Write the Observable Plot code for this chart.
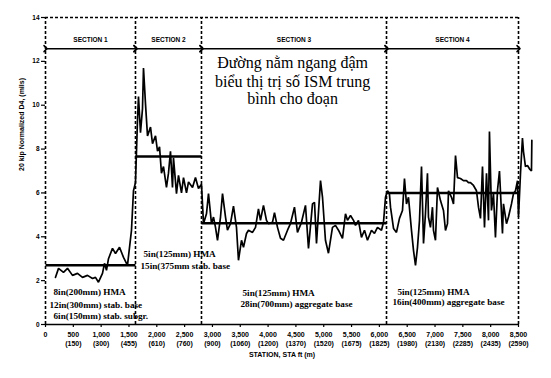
<!DOCTYPE html>
<html><head><meta charset="utf-8">
<script src="https://cdn.jsdelivr.net/npm/d3@7"></script>
<script src="https://cdn.jsdelivr.net/npm/@observablehq/plot@0.6"></script>
<style>html,body{margin:0;padding:0;background:#fff}</style>
</head><body><div id="chart"></div>
<script>
// Station (ft) along the road
const station = [
  180,234,323,395,485,575,665,755,845,898,952,1024,1060,1096,1132,1204,1258,1330,1402,1473,1545,1581,1617,
  1653,1671,1707,1743,1761,1797,1833,1887,1923,1977,2013,2049,2084,2120,2174,2210,2246,2282,2300,2354,2390,2444,2480,2534,2570,2642,2695,2749,2803,
  2839,2893,2929,2983,3019,3055,3091,3145,3181,3235,3270,3324,3378,3432,3468,3522,3558,3612,3648,3720,3774,3827,3863,3917,3971,4007,4079,4115,4169,4223,4277,4349,4402,4474,4528,4600,4672,4726,4798,4834,4870,4942,4978,5031,5085,5157,5211,5265,5337,5391,5427,5481,5535,5571,5624,5678,5732,5786,5858,5912,5966,6038,6074,6110,6145,
  6180,6200,6254,6307,6361,6415,6451,6487,6523,6577,6613,6649,6685,6721,6757,6793,6828,6864,6882,6918,6954,6972,7008,7044,7098,7152,7188,7224,7242,7296,7332,7368,7404,7457,7511,7565,7601,7637,7691,7745,7781,7817,7853,7889,7925,7961,7978,8014,8050,8086,8122,8158,8212,8230,8284,8320,8374,8410,8446,8482,8500,8536,8571,8589,8625,8661,8697,8733,8740
];
// 20 kip normalized D4 deflection (mils)
const deflection = [
  2.15,2.56,2.38,2.56,2.24,2.33,2.15,2.24,2.1,2.15,1.93,2.33,2.79,2.47,3.0,3.47,3.24,3.52,3.06,2.7,4.29,6.1,6.47,
  9.3,10.4,8.75,9.84,11.7,10.06,8.6,9.0,8.25,8.6,7.9,8.1,6.9,7.2,6.25,6.9,7.9,6.25,7.6,5.97,6.8,6.0,6.7,6.0,6.5,6.25,6.7,6.2,6.4,
  4.6,5.05,5.97,4.6,4.9,4.43,3.84,4.9,5.97,4.9,4.3,4.6,5.4,4.43,2.93,3.84,3.52,4.15,4.3,4.2,4.43,5.27,4.75,5.43,4.75,4.6,4.66,5.1,4.43,3.93,3.84,4.3,4.6,5.35,4.2,4.66,5.43,3.47,5.5,5.57,3.7,6.56,5.8,3.84,3.25,4.43,4.52,4.3,3.93,5.05,4.75,4.97,4.75,4.52,4.75,3.97,4.3,3.84,4.3,4.15,4.43,4.3,4.66,5.8,6.1,
  5.97,5.35,4.38,4.2,4.84,5.2,6.66,5.5,5.8,4.29,3.38,2.7,3.52,4.75,7.2,3.7,5.05,6.9,4.9,4.43,5.35,4.29,3.84,6.25,5.65,5.2,4.29,4.6,6.1,5.8,5.5,7.7,6.7,6.66,6.56,6.56,6.47,6.47,6.34,6.1,5.35,4.84,7.2,4.43,6.9,4.75,8.8,5.2,5.97,3.97,6.1,7.0,4.15,5.5,4.6,4.9,5.5,5.97,6.1,6.56,4.9,6.9,8.5,7.9,7.2,7.25,7.1,7.0,8.4
];
const sectionNames = ["SECTION 1","SECTION 2","SECTION 3","SECTION 4"];
const sectionStart = [0,1617,2803,6128];
const sectionEnd = [1617,2803,6128,8500];
const sectionMean = [2.7,7.66,4.62,6.0];
const layerLine1 = ["8in(200mm) HMA","5in(125mm) HMA","5in(125mm) HMA","5in(125mm) HMA"];
const layerLine2 = ["12in(300mm) stab. base","15in(375mm stab. base","28in(700mm) aggregate base","16in(400mm) aggregate base"];
const layerLine3 = ["6in(150mm) stab. subgr.","","",""];
const noteLines = ["Đường nằm ngang đậm","biểu thị trị số ISM trung","bình cho đoạn"];
const xTickValues = [0,500,1000,1500,2000,2500,3000,3500,4000,4500,5000,5500,6000,6500,7000,7500,8000,8500];
const xTickFt = ["0","500","1,000","1,500","2,000","2,500","3,000","3,500","4,000","4,500","5,000","5,500","6,000","6,500","7,000","7,500","8,000","8,500"];
const xTickM = ["","(150)","(300)","(455)","(610)","(760)","(900)","(1060)","(1200)","(1370)","(1520)","(1675)","(1825)","(1980)","(2130)","(2285)","(2435)","(2590)"];
const yTickValues = [0,2,4,6,8,10,12,14];
const yLabel = "20 kip Normalized D4, (mils)";
const xLabel = "STATION, STA ft (m)";

const pts = station.map((s,i)=>({s, d: deflection[i]}));
const sections = sectionNames.map((n,i)=>({n, a: sectionStart[i], b: sectionEnd[i], m: sectionMean[i]}));
const boundaries = [0, ...sectionEnd];

const serif = "Liberation Serif, Times New Roman, serif";
const layerX = [144, 1761, 3540, 6325];
const layerX2 = [72, 1707, 3504, 6235];
const layerY = [[1.47,0.9,0.38],[3.2,2.65,0],[1.43,0.92,0],[1.5,1.04,0]];

const chart = Plot.plot({
  width: 551, height: 378,
  marginLeft: 45, marginRight: 33, marginTop: 17, marginBottom: 54,
  style: {fontFamily: "Liberation Sans, Arial, sans-serif", fontSize: "7px", background: "#fff", color: "#000"},
  x: {domain: [0, 8500]},
  y: {domain: [0, 14]},
  marks: [
    Plot.ruleX(boundaries, {x: d=>d, y1: 0, y2: 14, stroke: "#000", strokeWidth: 1.6, strokeDasharray: "3,2"}),
    Plot.ruleY([14], {x1: 0, x2: 8500, stroke: "#000", strokeWidth: 1.3, strokeDasharray: "3,2"}),
    Plot.ruleY([0], {x1: 0, x2: 8500, stroke: "#000", strokeWidth: 1.6}),
    Plot.axisX(xTickValues, {
      tickFormat: d => { const i = xTickValues.indexOf(d); return xTickM[i] ? xTickFt[i] + "\n" + xTickM[i] : xTickFt[i]; },
      tickSize: 3, tickPadding: 3, fontSize: 7, lineHeight: 1.3, fontWeight: "bold", label: null, strokeWidth: 1.2
    }),
    Plot.axisY(yTickValues, {tickSize: 4, tickPadding: 2, fontSize: 6.5, fontWeight: "bold", label: null, strokeWidth: 1.2}),
    Plot.text([yLabel], {frameAnchor: "left", dx: -24, rotate: -90, fontSize: 7, fontWeight: "bold", text: d=>d}),
    Plot.text([xLabel], {frameAnchor: "bottom", dy: 32, fontSize: 7, fontWeight: "bold", text: d=>d}),
    Plot.link(sections, {x1: "a", x2: "b", y1: () => 12.58, y2: () => 12.58, stroke: "#000", strokeWidth: 1.5, markerStart: "arrow", markerEnd: "arrow"}),
    Plot.text(sections, {x: d => (d.a + d.b) / 2, y: () => 13.0, text: "n", fontSize: 6.5, fontWeight: "bold"}),
    Plot.link(sections, {x1: "a", x2: "b", y1: "m", y2: "m", stroke: "#000", strokeWidth: 2.6}),
    Plot.line(pts, {x: "s", y: "d", stroke: "#000", strokeWidth: 1.7, strokeLinejoin: "miter"}),
    Plot.text(noteLines, {x: () => 4440, y: (d,i) => [11.94, 11.07, 10.28][i], text: d=>d, fontFamily: serif, fontSize: 16}),
    Plot.text(sections, {x: (d,i) => layerX[i], y: (d,i) => layerY[i][0], text: (d,i) => layerLine1[i], textAnchor: "start", fontFamily: serif, fontSize: 9.2, fontWeight: "bold"}),
    Plot.text(sections, {x: (d,i) => layerX2[i], y: (d,i) => layerY[i][1], text: (d,i) => layerLine2[i], textAnchor: "start", fontFamily: serif, fontSize: 9.2, fontWeight: "bold"}),
    Plot.text(sections.slice(0,1), {x: () => 144, y: () => layerY[0][2], text: () => layerLine3[0], textAnchor: "start", fontFamily: serif, fontSize: 9.2, fontWeight: "bold"})
  ]
});
document.getElementById("chart").append(chart);
</script>
</body></html>
